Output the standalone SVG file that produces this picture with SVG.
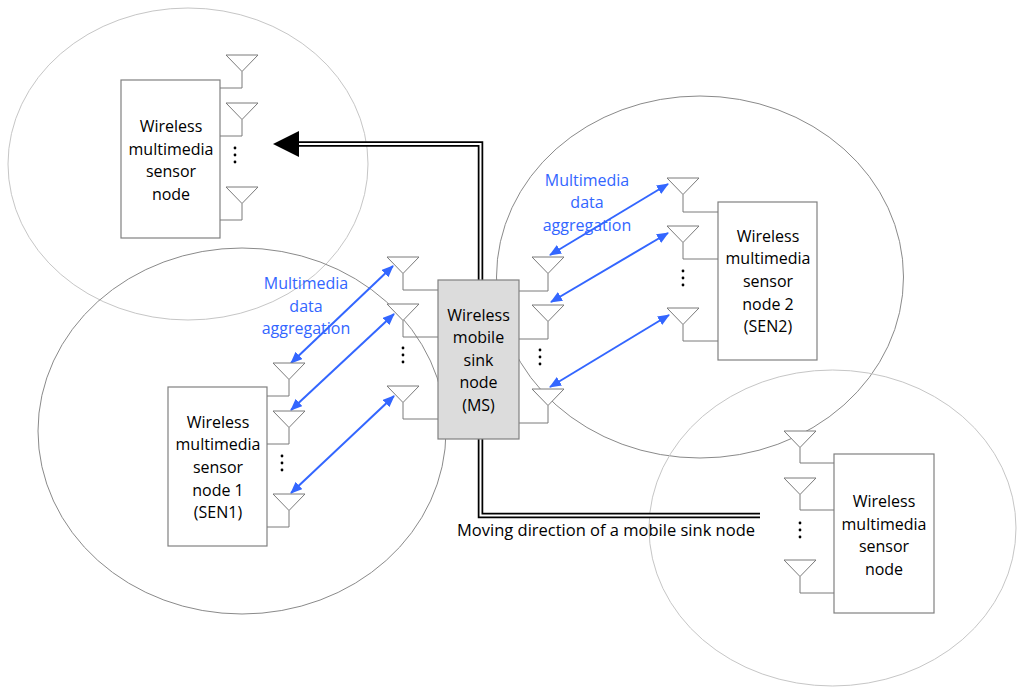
<svg xmlns="http://www.w3.org/2000/svg" xmlns:xlink="http://www.w3.org/1999/xlink" width="1024" height="695" viewBox="0 0 1024 695">
<style>
.range-light{fill:none;stroke:#c6c6c6;stroke-width:1}
.range-dark{fill:none;stroke:#8a8a8a;stroke-width:1}
.box{fill:#ffffff;stroke:#808080;stroke-width:1.2}
.ms{fill:#dcdcdc;stroke:#808080;stroke-width:1.2}
.ant{fill:#ffffff;stroke:#7a7a7a;stroke-width:1}
.stem{fill:none;stroke:#7a7a7a;stroke-width:1}
.dot{fill:#000000}
.lbl{font-family:"Open Sans","Noto Sans","Liberation Sans",sans-serif;font-size:16px;fill:#000000;text-anchor:middle}
.move{font-size:16.5px}
.blue{font-family:"Open Sans","Noto Sans","Liberation Sans",sans-serif;font-size:16px;fill:#3366ff;text-anchor:middle}
.link{fill:none;stroke:#3366ff;stroke-width:2;marker-start:url(#bh);marker-end:url(#bh)}
</style>
<defs>
<marker id="bh" viewBox="0 0 12 10" refX="11" refY="5" markerWidth="12" markerHeight="10" markerUnits="userSpaceOnUse" orient="auto-start-reverse">
<path d="M0 0 L12 5 L0 10 Z" fill="#3366ff"/>
</marker>
<path id="ant" d="M-16 0 H16 L0 16.5 Z"/>
</defs>
<rect width="1024" height="695" fill="#ffffff"/>

<g id="ranges">
<ellipse class="range-light" cx="188" cy="164" rx="180" ry="156"/>
<ellipse class="range-dark" cx="242" cy="431" rx="204" ry="183"/>
<ellipse class="range-dark" cx="700" cy="277" rx="203.5" ry="181"/>
<ellipse class="range-light" cx="832.5" cy="528" rx="183.5" ry="158"/>
</g>

<g id="connectors">
<path d="M760 515.5 H480.5 V144 H296" fill="none" stroke="#000000" stroke-width="5.5" stroke-linejoin="miter"/>
<path d="M760 515.5 H480.5 V144 H296" fill="none" stroke="#ffffff" stroke-width="2" stroke-linejoin="miter"/>
<polygon points="273,144 299,131 299,157" fill="#000000"/>
<line class="link" x1="291" y1="363" x2="393" y2="266"/>
<line class="link" x1="291" y1="410" x2="394" y2="314"/>
<line class="link" x1="291" y1="493" x2="394" y2="396"/>
<line class="link" x1="550" y1="255" x2="668" y2="184"/>
<line class="link" x1="551" y1="302" x2="668" y2="233"/>
<line class="link" x1="550" y1="387" x2="669" y2="315"/>
</g>

<g id="node-top-left">
<rect class="box" x="121" y="80" width="99" height="158"/>
<use xlink:href="#ant" class="ant" x="242" y="55"/>
<use xlink:href="#ant" class="ant" x="242" y="103"/>
<use xlink:href="#ant" class="ant" x="242" y="187"/>
<path class="stem" d="M242 71.5 V88 H220 M242 119.5 V136 H220 M242 203.5 V220 H220"/>
<circle class="dot" cx="235" cy="148" r="1.4"/><circle class="dot" cx="235" cy="155" r="1.4"/><circle class="dot" cx="235" cy="162" r="1.4"/>
<text class="lbl" x="171" y="132">Wireless</text>
<text class="lbl" x="171" y="155">multimedia</text>
<text class="lbl" x="171" y="177">sensor</text>
<text class="lbl" x="171" y="200">node</text>
</g>

<g id="node-sen1">
<rect class="box" x="168" y="387" width="99" height="159"/>
<use xlink:href="#ant" class="ant" x="289" y="363"/>
<use xlink:href="#ant" class="ant" x="289" y="411"/>
<use xlink:href="#ant" class="ant" x="289" y="494"/>
<path class="stem" d="M289 379.5 V396 H267 M289 427.5 V444 H267 M289 510.5 V527 H267"/>
<circle class="dot" cx="282" cy="456" r="1.4"/><circle class="dot" cx="282" cy="463" r="1.4"/><circle class="dot" cx="282" cy="470" r="1.4"/>
<text class="lbl" x="218" y="428">Wireless</text>
<text class="lbl" x="218" y="450">multimedia</text>
<text class="lbl" x="218" y="473">sensor</text>
<text class="lbl" x="218" y="496">node 1</text>
<text class="lbl" x="218" y="518">(SEN1)</text>
</g>

<g id="node-ms">
<use xlink:href="#ant" class="ant" x="403" y="257"/>
<use xlink:href="#ant" class="ant" x="403" y="304"/>
<use xlink:href="#ant" class="ant" x="403" y="386"/>
<path class="stem" d="M403 273.5 V290 H438 M403 320.5 V337 H438 M403 402.5 V419 H438"/>
<use xlink:href="#ant" class="ant" x="548" y="257"/>
<use xlink:href="#ant" class="ant" x="548" y="305"/>
<use xlink:href="#ant" class="ant" x="548" y="389"/>
<path class="stem" d="M548 273.5 V291 H519 M548 321.5 V339 H519 M548 405.5 V423 H519"/>
<rect class="ms" x="438" y="280" width="81" height="159"/>
<circle class="dot" cx="403" cy="348" r="1.4"/><circle class="dot" cx="403" cy="355" r="1.4"/><circle class="dot" cx="403" cy="362" r="1.4"/>
<circle class="dot" cx="540" cy="350" r="1.4"/><circle class="dot" cx="540" cy="357" r="1.4"/><circle class="dot" cx="540" cy="364" r="1.4"/>
<text class="lbl" x="478.5" y="321">Wireless</text>
<text class="lbl" x="478.5" y="343">mobile</text>
<text class="lbl" x="478.5" y="366">sink</text>
<text class="lbl" x="478.5" y="388">node</text>
<text class="lbl" x="478.5" y="411">(MS)</text>
</g>

<g id="node-sen2">
<rect class="box" x="718" y="202" width="99" height="158"/>
<use xlink:href="#ant" class="ant" x="683" y="178"/>
<use xlink:href="#ant" class="ant" x="683" y="226"/>
<use xlink:href="#ant" class="ant" x="683" y="308"/>
<path class="stem" d="M683 194.5 V212 H718 M683 242.5 V259 H718 M683 324.5 V341 H718"/>
<circle class="dot" cx="683" cy="271" r="1.4"/><circle class="dot" cx="683" cy="278" r="1.4"/><circle class="dot" cx="683" cy="285" r="1.4"/>
<text class="lbl" x="768" y="242">Wireless</text>
<text class="lbl" x="768" y="264">multimedia</text>
<text class="lbl" x="768" y="287">sensor</text>
<text class="lbl" x="768" y="310">node 2</text>
<text class="lbl" x="768" y="332">(SEN2)</text>
</g>

<g id="node-bottom-right">
<rect class="box" x="834" y="454" width="100" height="159"/>
<use xlink:href="#ant" class="ant" x="800" y="431"/>
<use xlink:href="#ant" class="ant" x="800" y="478"/>
<use xlink:href="#ant" class="ant" x="800" y="560"/>
<path class="stem" d="M800 447.5 V463 H834 M800 494.5 V510 H834 M800 576.5 V593 H834"/>
<circle class="dot" cx="800" cy="523" r="1.4"/><circle class="dot" cx="800" cy="530" r="1.4"/><circle class="dot" cx="800" cy="537" r="1.4"/>
<text class="lbl" x="884" y="507">Wireless</text>
<text class="lbl" x="884" y="530">multimedia</text>
<text class="lbl" x="884" y="552">sensor</text>
<text class="lbl" x="884" y="575">node</text>
</g>

<g id="labels">
<text class="blue" x="306" y="289">Multimedia</text>
<text class="blue" x="306" y="312">data</text>
<text class="blue" x="306" y="334">aggregation</text>
<text class="blue" x="587" y="186">Multimedia</text>
<text class="blue" x="587" y="208">data</text>
<text class="blue" x="587" y="231">aggregation</text>
<text class="lbl move" x="606" y="536">Moving direction of a mobile sink node</text>
</g>
</svg>
